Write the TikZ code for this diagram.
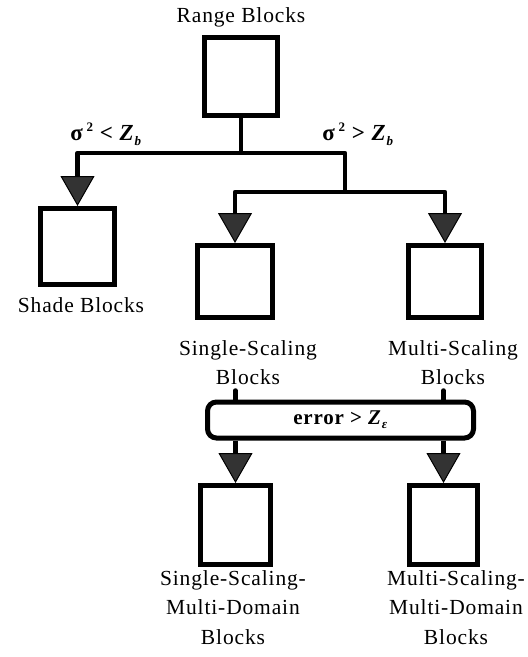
\documentclass[tikz,border=0pt]{standalone}
\usepackage{fontspec}
\setmainfont{Liberation Serif}[LetterSpace=4]
\usetikzlibrary{arrows.meta}
\begin{document}
\begin{tikzpicture}[x=1pt,y=-1pt,
  blk/.style={draw=black,line width=5pt,minimum width=73pt,minimum height=77pt,inner sep=0pt},
  lbl/.style={font=\fontsize{21.5}{29.5}\selectfont,align=center,inner sep=0pt},
  cond/.style={font=\fontsize{23}{25}\selectfont\bfseries,inner sep=0pt},
  conn/.style={line width=4.5pt,line join=round},
  arr/.style={conn,-{Triangle[width=34pt,length=30pt,line width=1pt,fill=black!80]}},
  errbox/.style={draw=black,line width=5pt,rounded corners=9pt,minimum width=266pt,minimum height=36pt,inner sep=0pt,font=\fontsize{21}{23}\selectfont\bfseries}
]
\useasboundingbox[fill=white] (0,0) rectangle (528,657);

% boxes
\node[blk,minimum height=78pt] (range) at (241,76.5) {};
\node[blk,minimum width=74pt,minimum height=76pt] (shade) at (77.5,246.5) {};
\node[blk,minimum width=75pt,minimum height=72pt] (single) at (235,281.5) {};
\node[blk,minimum width=73pt,minimum height=72pt] (multi) at (445,281.5) {};
\node[blk,minimum width=70pt,minimum height=79pt] (bl) at (235.5,525) {};
\node[blk,minimum width=68pt,minimum height=79pt] (br) at (443.5,525) {};
\node[errbox] (err) at (340.5,420) {error > \textit{Z}\raisebox{-0.4ex}{\fontsize{13}{13}\selectfont\textit{ε}}};

% labels
\node[lbl] (tRange) at (241,17) {Range Blocks};
\node[lbl] (tShade) at (81,305) {Shade Blocks};
\node[lbl] (tSingle) at (248,362.5) {Single-Scaling\\Blocks};
\node[lbl] (tMulti) at (453,362.5) {Multi-Scaling\\Blocks};
\node[lbl] (tBL) at (233,607.5) {Single-Scaling-\\Multi-Domain\\Blocks};
\node[lbl] (tBR) at (456,607.5) {Multi-Scaling-\\Multi-Domain\\Blocks};
\node[cond] (cLow) at (106,134) {σ\,\raisebox{0.9ex}{\fontsize{13}{13}\selectfont 2} < \textit{Z}\raisebox{-0.45ex}{\fontsize{13}{13}\selectfont\textit{b}}};
\node[cond] (cHigh) at (358,134) {σ\,\raisebox{0.9ex}{\fontsize{13}{13}\selectfont 2} > \textit{Z}\raisebox{-0.45ex}{\fontsize{13}{13}\selectfont\textit{b}}};

% connectors
\coordinate (jA) at (241,153);
\coordinate (jB) at (345,192);
\draw[conn] (range.south) -- (jA);
\draw[arr] (jA) -| (shade.north);
\draw[conn] (jA) -| (jB);
\draw[arr] (jB) -| (single.north);
\draw[arr] (jB) -| (multi.north);
\draw[conn,line cap=round] (err.north -| bl.north) -- ++(0,-9);
\draw[conn,line cap=round] (err.north -| br.north) -- ++(0,-9);
\draw[arr] (err.south -| bl.north) -- (bl.north);
\draw[arr] (err.south -| br.north) -- (br.north);
\end{tikzpicture}
\end{document}
